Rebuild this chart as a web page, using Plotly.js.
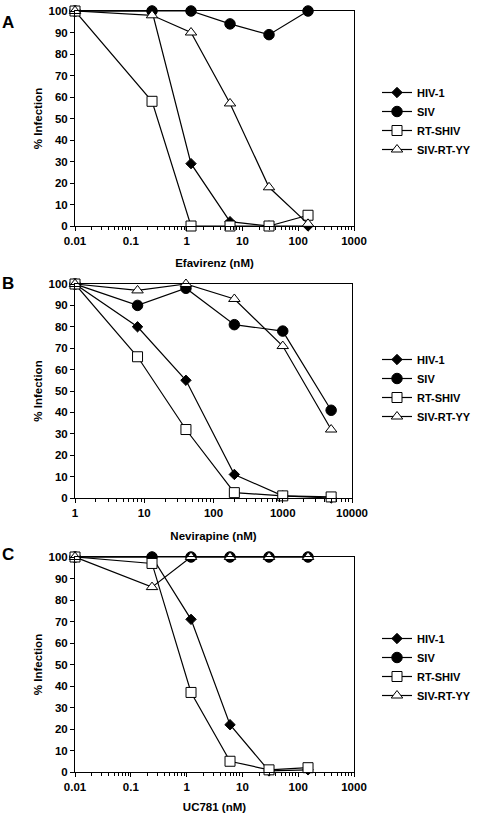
<!DOCTYPE html>
<html>
<head>
<meta charset="utf-8">
<script src="https://cdn.plot.ly/plotly-3.0.1.min.js"></script>
<style>
  html, body { margin: 0; padding: 0; background: #fff; }
  #chart { width: 478px; height: 818px; }
</style>
</head>
<body>
<div id="chart"></div>
<script>
// Series names (shared by all three panels)
const seriesNames = ['HIV-1', 'SIV', 'RT-SHIV', 'SIV-RT-YY'];

// Panel A: Efavirenz (nM) vs % infection
const efavirenzConc = [0.01, 0.24, 1.2, 6, 30, 150];
const efaHIV1      = [100, 100, 29, 2, 0, 0];
const efaSIV       = [100, 100, 100, 94, 89, 100];
const efaRTSHIV    = [100, 58, 0, 0, 0, 5];
const efaSIVRTYY   = [100, 98, 90, 57, 18, 1];

// Panel B: Nevirapine (nM) vs % infection
const nevirapineConc = [1, 8, 40, 200, 1000, 5000];
const nevHIV1      = [100, 80, 55, 11, 1, 0];
const nevSIV       = [100, 90, 98, 81, 78, 41];
const nevRTSHIV    = [100, 66, 32, 2.5, 1, 0.5];
const nevSIVRTYY   = [100, 97, 100, 93, 71, 32];

// Panel C: UC781 (nM) vs % infection
const uc781Conc    = [0.01, 0.24, 1.2, 6, 30, 150];
const ucHIV1       = [100, 100, 71, 22, 0.5, 1];
const ucSIV        = [100, 100, 100, 100, 100, 100];
const ucRTSHIV     = [100, 97, 37, 5, 1, 2];
const ucSIVRTYY    = [100, 86, 100, 100, 100, 100];

// Tick labels
const yTickVals   = [0, 10, 20, 30, 40, 50, 60, 70, 80, 90, 100];
const xTicksAC    = [0.01, 0.1, 1, 10, 100, 1000];
const xTickTextAC = ['0.01', '0.1', '1', '10', '100', '1000'];
const xTicksB     = [1, 10, 100, 1000, 10000];
const xTickTextB  = ['1', '10', '100', '1000', '10000'];

const FONT = 'Liberation Sans, Arial, sans-serif';
const W = 478, H = 818;

// marker styles per series
const markerStyles = [
  { symbol: 'diamond',     size: 8,  color: '#000', line: { color: '#000', width: 1 } },
  { symbol: 'circle',      size: 10.5, color: '#000', line: { color: '#000', width: 1 } },
  { symbol: 'square',      size: 10, color: '#fff', line: { color: '#000', width: 1 } },
  { symbol: 'triangle-up', size: 10, color: '#fff', line: { color: '#000', width: 1 } }
];

function panelTraces(x, ys, xa, ya, legendId) {
  return ys.map((y, i) => ({
    type: 'scatter',
    mode: 'lines+markers',
    x: x, y: y,
    xaxis: xa, yaxis: ya,
    name: seriesNames[i],
    legend: legendId,
    cliponaxis: false,
    line: { color: '#000', width: 1.2 },
    marker: markerStyles[i]
  }));
}

const data = []
  .concat(panelTraces(efavirenzConc, [efaHIV1, efaSIV, efaRTSHIV, efaSIVRTYY], 'x', 'y', 'legend'))
  .concat(panelTraces(nevirapineConc, [nevHIV1, nevSIV, nevRTSHIV, nevSIVRTYY], 'x2', 'y2', 'legend2'))
  .concat(panelTraces(uc781Conc, [ucHIV1, ucSIV, ucRTSHIV, ucSIVRTYY], 'x3', 'y3', 'legend3'));

// minor tick positions (2..9 within each decade)
function minorLogTicks(lo, hi) {
  const v = [];
  for (let d = lo; d < hi; d++) for (let k = 2; k <= 9; k++) v.push(k * Math.pow(10, d));
  return v;
}

const tickFont = { family: FONT, size: 11.5, color: '#000', weight: 'bold' };
const titleFont = { family: FONT, size: 11.5, color: '#000', weight: 'bold' };

function xAxis(domainPx, lo, hi, tv, tt, title, anchor, standoff) {
  return {
    type: 'log',
    domain: [domainPx[0] / W, domainPx[1] / W],
    range: [lo, hi],
    anchor: anchor,
    tickmode: 'array', tickvals: tv, ticktext: tt,
    ticks: 'outside', ticklen: 4, tickwidth: 1, tickcolor: '#000',
    minor: { tickmode: 'array', tickvals: minorLogTicks(lo, hi), ticks: 'outside', ticklen: 2.5, tickwidth: 1, tickcolor: '#000', showgrid: false },
    showline: true, linecolor: '#000', linewidth: 1, mirror: true,
    showgrid: false, zeroline: false,
    tickfont: tickFont,
    automargin: false,
    title: { text: title, font: titleFont, standoff: standoff }
  };
}

function yAxis(topPx, botPx, anchor) {
  return {
    domain: [1 - botPx / H, 1 - topPx / H],
    range: [0, 100],
    anchor: anchor,
    tickmode: 'array', tickvals: yTickVals,
    ticks: 'outside', ticklen: 4, tickwidth: 1, tickcolor: '#000',
    showline: true, linecolor: '#000', linewidth: 1, mirror: true,
    showgrid: false, zeroline: false,
    tickfont: tickFont,
    automargin: false,
    title: { text: '% Infection', font: titleFont, standoff: 3 }
  };
}

function legendAt(topPx) {
  return {
    x: 377 / W, xanchor: 'left',
    y: 1 - topPx / H, yanchor: 'top',
    bgcolor: 'rgba(0,0,0,0)', borderwidth: 0,
    font: { family: FONT, size: 11, color: '#000', weight: 'bold' },
    itemwidth: 30, tracegroupgap: 0
  };
}

const layout = {
  width: W, height: H,
  margin: { l: 0, r: 0, t: 0, b: 0 },
  paper_bgcolor: '#fff', plot_bgcolor: '#fff',
  showlegend: true,
  xaxis:  xAxis([75, 354], -2, 3, xTicksAC, xTickTextAC, 'Efavirenz (nM)', 'y', 13),
  yaxis:  yAxis(11, 226, 'x'),
  xaxis2: xAxis([75, 352], 0, 4, xTicksB, xTickTextB, 'Nevirapine (nM)', 'y2', 14),
  yaxis2: yAxis(284, 498, 'x2'),
  xaxis3: xAxis([75, 354], -2, 3, xTicksAC, xTickTextAC, 'UC781 (nM)', 'y3', 11),
  yaxis3: yAxis(557, 772, 'x3'),
  legend:  legendAt(78),
  legend2: legendAt(345),
  legend3: legendAt(624),
  annotations: [
    { text: 'A', x: 8 / W, y: 1 - 23 / H },
    { text: 'B', x: 8 / W, y: 1 - 284 / H },
    { text: 'C', x: 8 / W, y: 1 - 554 / H }
  ].map(a => Object.assign(a, {
    xref: 'paper', yref: 'paper', xanchor: 'center', yanchor: 'middle',
    showarrow: false, font: { family: FONT, size: 17, color: '#000', weight: 'bold' }
  }))
};

Plotly.newPlot('chart', data, layout, { displayModeBar: false, staticPlot: true });
</script>
</body>
</html>
